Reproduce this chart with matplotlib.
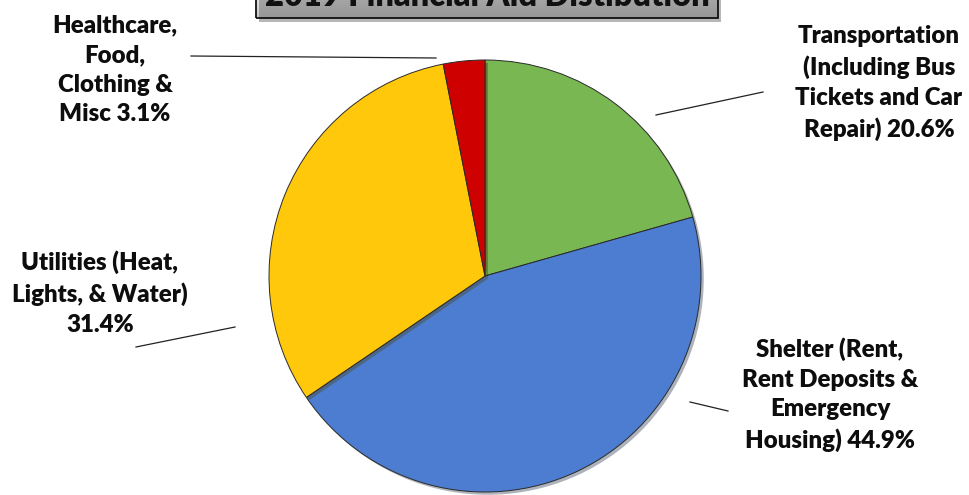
import matplotlib.pyplot as plt
import matplotlib.patheffects as pe
import numpy as np
from matplotlib.patches import Rectangle

# data
categories = [
    "Transportation\n(Including Bus\nTickets and Car\nRepair)",
    "Shelter (Rent,\nRent Deposits &\nEmergency\nHousing)",
    "Utilities (Heat,\nLights, & Water)\n",
    "Healthcare,\nFood,\nClothing &\nMisc",
]
shares = [20.6, 44.9, 31.4, 3.1]
colors = ["#79B752", "#4C7DD0", "#FFC80A", "#CE0000"]
title = "2019 Financial Aid Distibution"

W, H = 969, 495


def py(y):
    # pixel row (from top) -> data y
    return H - y


fig = plt.figure(figsize=(W / 100, H / 100), dpi=100)
ax = fig.add_axes([0, 0, 1, 1])
ax.set_xlim(0, W)
ax.set_ylim(0, H)
ax.set_aspect("equal")
ax.axis("off")

wedges, _ = ax.pie(
    shares,
    colors=colors,
    startangle=90,
    counterclock=False,
    center=(485, py(276)),
    radius=216,
    wedgeprops=dict(edgecolor="#2a2a2a", linewidth=0.7),
)
for w in wedges:
    w.set_path_effects([pe.SimplePatchShadow(offset=(2, -2), alpha=0.35), pe.Normal()])

# labels: (text centre x, text centre y, leader line start, leader line end)
layout = [
    (879, 83, (656, 115), (763, 92)),
    (830, 395, (690, 402), (728, 411)),
    (100, 293, (136, 347), (235, 327)),
    (115, 70, (191, 56), (436, 58)),
]
for cat, val, (tx, ty, p0, p1) in zip(categories, shares, layout):
    if cat.endswith("\n"):
        label = cat + f"{val}%"
    else:
        label = cat + f" {val}%"
    ax.text(tx, py(ty), label, ha="center", va="center", fontsize=17.3,
            fontweight="heavy", family="Lato", linespacing=1.42, color="#0d0d0d")
    ax.plot([p0[0], p1[0]], [py(p0[1]), py(p1[1])], color="#222222", lw=0.9)

# title box with a grey gradient, cut off at the top like the reference
x0, x1, y_bot = 256, 718, 18
grad = np.linspace(0.98, 0.78, 64).reshape(-1, 1)
ax.imshow(grad, cmap="gray", vmin=0, vmax=1, extent=(x0, x1, py(y_bot), py(-20)),
          aspect="auto", zorder=3)
box = Rectangle((x0, py(y_bot)), x1 - x0, 40, facecolor="none", edgecolor="#111111",
                lw=1.3, zorder=4)
box.set_path_effects([pe.SimplePatchShadow(offset=(2, -3), alpha=0.4), pe.Normal()])
ax.add_patch(box)
ax.text((x0 + x1) / 2, py(6), title, ha="center", va="baseline", fontsize=23.5,
        fontweight="heavy", family="Lato", color="#111111", zorder=5)

ax.set_xlim(0, W)
ax.set_ylim(0, H)
fig.savefig("out.png", dpi=100)
